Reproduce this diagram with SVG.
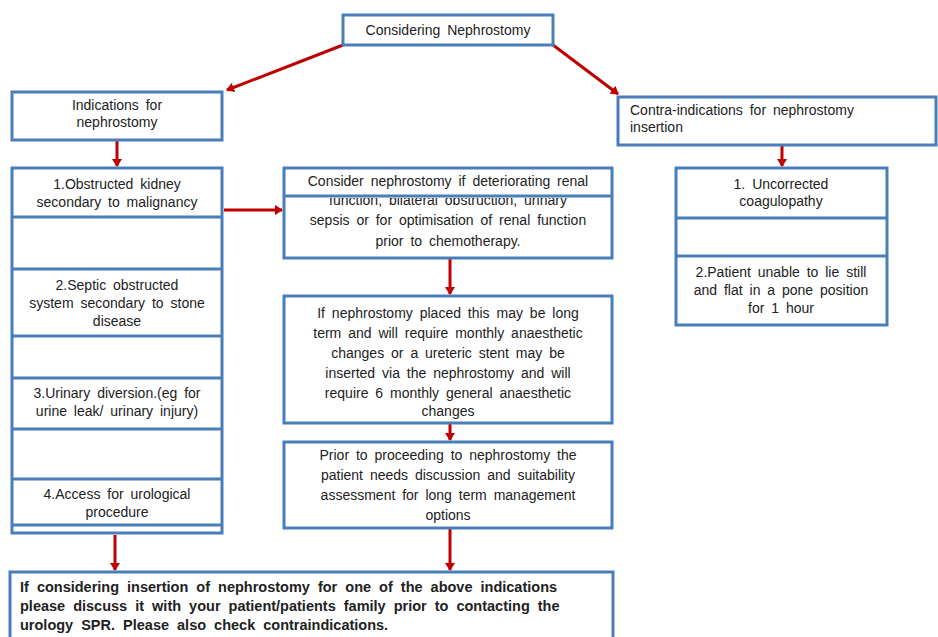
<svg xmlns="http://www.w3.org/2000/svg" width="938" height="637" viewBox="0 0 938 637">
<defs>
<marker id="ah" markerWidth="10" markerHeight="10" refX="7" refY="5" orient="auto" markerUnits="userSpaceOnUse">
<path d="M0,0 L8,5 L0,10 Z" fill="#c00000"/>
</marker>
<clipPath id="c1"><rect x="284" y="198" width="328" height="60"/></clipPath>
<style>
.b{fill:#fff;stroke:#4a7ebb;stroke-width:3}
.d{stroke:#4a7ebb;stroke-width:3}
.t{font-family:"Liberation Sans",Arial,sans-serif;font-size:14px;fill:#222;text-anchor:middle;word-spacing:3px}
.l{text-anchor:start}
.bt{font-family:"Liberation Sans",Arial,sans-serif;font-size:14.5px;font-weight:bold;fill:#222;word-spacing:4px}
.a{stroke:#c00000;stroke-width:3;fill:none;marker-end:url(#ah)}
</style>
</defs>
<rect width="938" height="637" fill="#fff"/>
<g id="connectors">
<line class="a" x1="343" y1="45" x2="227" y2="90"/>
<line class="a" x1="553" y1="45" x2="618" y2="94"/>
<line class="a" x1="117" y1="127" x2="117" y2="166"/>
<line class="a" x1="224" y1="210" x2="282" y2="210"/>
<line class="a" x1="782" y1="146" x2="782" y2="166"/>
<line class="a" x1="450" y1="259" x2="450" y2="294"/>
<line class="a" x1="450" y1="423" x2="450" y2="440"/>
<line class="a" x1="115" y1="535" x2="115" y2="570"/>
<line class="a" x1="450" y1="529" x2="450" y2="570"/>
</g>
<g id="top">
<rect class="b" x="343" y="15" width="210" height="30"/>
<text class="t" x="448" y="35">Considering Nephrostomy</text>
</g>
<g id="indications">
<rect class="b" x="12" y="92" width="210" height="48"/>
<text class="t" x="117" y="110">Indications for</text>
<text class="t" x="117" y="127">nephrostomy</text>
</g>
<g id="contra">
<rect class="b" x="618" y="97" width="318" height="48"/>
<text class="t l" x="630" y="115">Contra-indications for nephrostomy</text>
<text class="t l" x="630" y="132">insertion</text>
</g>
<g id="indication-list">
<rect class="b" x="12" y="168" width="210" height="365"/>
<line class="d" x1="12" y1="217" x2="222" y2="217"/>
<line class="d" x1="12" y1="269" x2="222" y2="269"/>
<line class="d" x1="12" y1="336" x2="222" y2="336"/>
<line class="d" x1="12" y1="378" x2="222" y2="378"/>
<line class="d" x1="12" y1="429" x2="222" y2="429"/>
<line class="d" x1="12" y1="479" x2="222" y2="479"/>
<line class="d" x1="12" y1="525" x2="222" y2="525"/>
<text class="t" x="117" y="189">1.Obstructed kidney</text>
<text class="t" x="117" y="207">secondary to malignancy</text>
<text class="t" x="117" y="290">2.Septic obstructed</text>
<text class="t" x="117" y="308">system secondary to stone</text>
<text class="t" x="117" y="326">disease</text>
<text class="t" x="117" y="398">3.Urinary diversion.(eg for</text>
<text class="t" x="117" y="416">urine leak/ urinary injury)</text>
<text class="t" x="117" y="499">4.Access for urological</text>
<text class="t" x="117" y="517">procedure</text>
</g>
<g id="consider">
<rect class="b" x="284" y="168" width="328" height="90"/>
<line class="d" x1="284" y1="196" x2="612" y2="196"/>
<text class="t" x="448" y="186">Consider nephrostomy  if deteriorating renal</text>
<text class="t" x="448" y="205" clip-path="url(#c1)">function, bilateral obstruction, urinary</text>
<text class="t" x="448" y="225">sepsis or for optimisation  of renal function</text>
<text class="t" x="448" y="246">prior to chemotherapy.</text>
</g>
<g id="long-term">
<rect class="b" x="284" y="296" width="328" height="127"/>
<text class="t" x="448" y="318">If nephrostomy  placed this may be long</text>
<text class="t" x="448" y="338">term and will require monthly anaesthetic</text>
<text class="t" x="448" y="358">changes or a ureteric stent may be</text>
<text class="t" x="448" y="378">inserted via the nephrostomy  and will</text>
<text class="t" x="448" y="398">require 6 monthly general anaesthetic</text>
<text class="t" x="448" y="416">changes</text>
</g>
<g id="prior">
<rect class="b" x="284" y="442" width="328" height="86"/>
<text class="t" x="448" y="460">Prior to proceeding to nephrostomy  the</text>
<text class="t" x="448" y="480">patient needs discussion and suitability</text>
<text class="t" x="448" y="500">assessment for long term management</text>
<text class="t" x="448" y="520">options</text>
</g>
<g id="contra-list">
<rect class="b" x="676" y="168" width="211" height="157"/>
<line class="d" x1="676" y1="218" x2="887" y2="218"/>
<line class="d" x1="676" y1="256" x2="887" y2="256"/>
<text class="t" x="781" y="189">1. Uncorrected</text>
<text class="t" x="781" y="206">coagulopathy</text>
<text class="t" x="781" y="277">2.Patient unable to lie still</text>
<text class="t" x="781" y="295">and flat in a pone position</text>
<text class="t" x="781" y="313">for 1 hour</text>
</g>
<g id="discuss">
<rect class="b" x="10" y="572" width="603" height="70"/>
<text class="bt" x="20" y="592">If considering insertion of nephrostomy for one of the above indications</text>
<text class="bt" x="20" y="611">please discuss it with your patient/patients family prior to contacting the</text>
<text class="bt" x="20" y="630">urology SPR. Please also check contraindications.</text>
</g>
</svg>
